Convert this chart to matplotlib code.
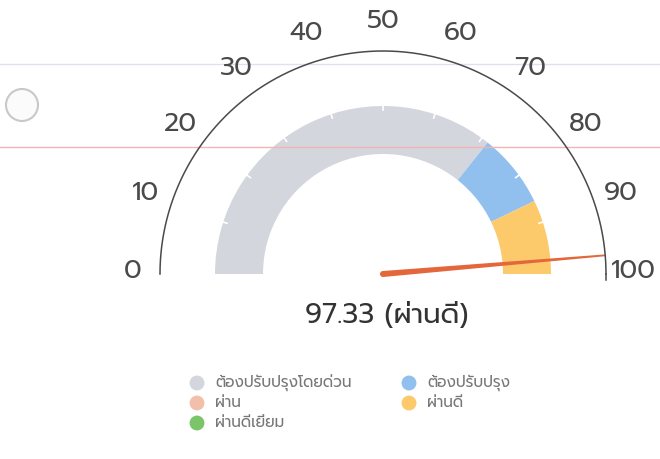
import numpy as np
import matplotlib
matplotlib.use("Agg")
import matplotlib.pyplot as plt
from matplotlib.patches import Wedge, Polygon, Circle

# ---------------- data ----------------
band_labels = ["ต้องปรับปรุงโดยด่วน", "ต้องปรับปรุง", "ผ่าน", "ผ่านดี", "ผ่านดีเยี่ยม"]
band_colors = ["#d4d6dd", "#91c0ee", "#f2c0aa", "#fcc96b", "#7cc46a"]
band_edges = [0, 71.4, 85.7, 100]          # gray, blue, yellow segments
band_edge_colors = ["#d4d6dd", "#91c0ee", "#fcc96b"]
tick_values = list(range(0, 101, 10))
value = 97.33
value_label = "97.33 (ผ่านดี)"

plt.rcParams['font.family'] = ["Prompt", "Anuphan", "DejaVu Sans"]

W, H = 660, 459
fig = plt.figure(figsize=(W / 100, H / 100), dpi=100)
ax = fig.add_axes([0, 0, 1, 1])
ax.set_xlim(0, W)
ax.set_ylim(0, H)
ax.set_aspect('equal')
ax.axis('off')

cx, cy = 383, H - 274
R_outer_arc = 223
R_band = 168
band_w = 48
R_lab = 250

def ang(v):
    return 180 - 1.8 * v

# scan artifacts visible in the reference
ax.axhline(H - 64, color="#e4def0", lw=1.0)
ax.axhline(H - 147, color="#f0b4b4", lw=1.0)
ax.add_patch(Circle((22, H - 105), 16, facecolor="#fbfbfb", edgecolor="#c8c8c8", lw=1.5))

# coloured bands
for i in range(len(band_edges) - 1):
    ax.add_patch(Wedge((cx, cy), R_band, ang(band_edges[i + 1]), ang(band_edges[i]),
                       width=band_w, facecolor=band_edge_colors[i], edgecolor='none'))
for t in tick_values[1:-1]:
    a = np.deg2rad(ang(t))
    ax.plot([cx + (R_band - 4) * np.cos(a), cx + (R_band + 1) * np.cos(a)],
            [cy + (R_band - 4) * np.sin(a), cy + (R_band + 1) * np.sin(a)],
            color="white", lw=1.2)

# outer arc
th = np.linspace(np.pi, 0, 300)
ax.plot(cx + R_outer_arc * np.cos(th), cy + R_outer_arc * np.sin(th), color="#4a4a4a", lw=1.1)
ax.plot([cx + R_outer_arc, cx + R_outer_arc], [cy, cy - 6], color="#4a4a4a", lw=1.1)

# tick labels
for t in tick_values:
    a = np.deg2rad(ang(t))
    ax.text(cx + R_lab * np.cos(a), cy + R_lab * np.sin(a) + 3, str(t),
            ha='center', va='center', fontsize=19, color="#4a4a4a")

# needle
a = np.deg2rad(ang(value))
u = np.array([np.cos(a), np.sin(a)])
perp = np.array([-np.sin(a), np.cos(a)])
c = np.array([cx, cy])
tipc = c + R_outer_arc * u
bw, tw = 3.0, 0.9
pts = [c + perp * bw, tipc + perp * tw, tipc - perp * tw, c - perp * bw]
ax.add_patch(Polygon(pts, closed=True, facecolor="#e4673c", edgecolor='none'))
ax.add_patch(Circle((cx, cy), bw, facecolor="#e4673c", edgecolor='none'))

# value text
ax.text(cx + 4, H - 316, value_label, ha='center', va='center', fontsize=20, color="#333333")

# legend (manual layout)
leg_pos = {0: (197, 383), 1: (409, 383), 2: (197, 403), 3: (409, 403), 4: (197, 423)}
for i, lab in enumerate(band_labels):
    x, y = leg_pos[i]
    ax.scatter([x], [H - y], s=115, color=band_colors[i], edgecolors='none')
    ax.text(x + 18, H - y, lab, ha='left', va='center', fontsize=11, color="#777777")

fig.savefig("out.png", dpi=100)
